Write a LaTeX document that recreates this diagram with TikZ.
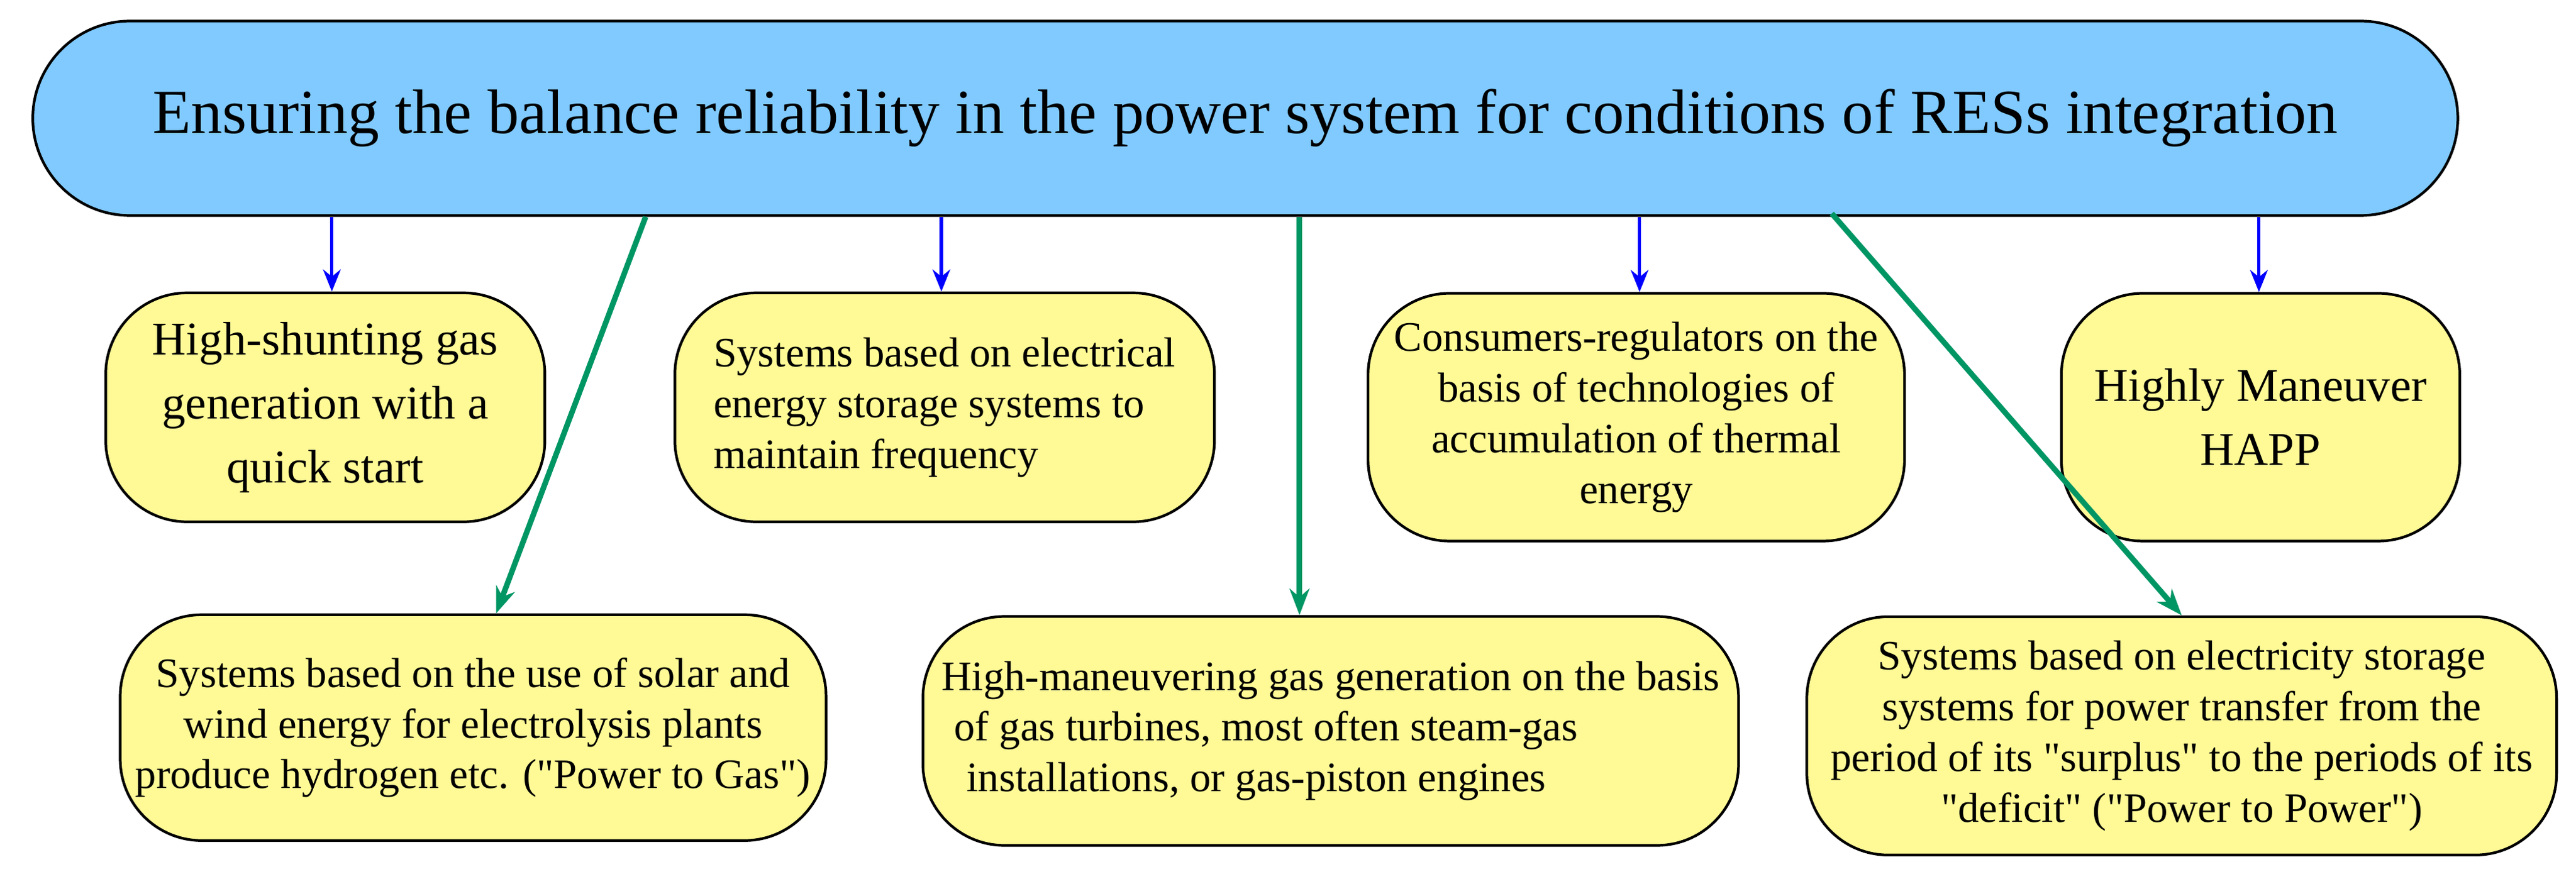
\documentclass[tikz,border=0pt]{standalone}
\usepackage{fontspec}
\setmainfont{Liberation Serif}
\usetikzlibrary{arrows.meta}
\definecolor{topblue}{RGB}{128,202,255}
\definecolor{boxyellow}{RGB}{255,250,150}
\definecolor{arrgreen}{RGB}{0,150,100}
\tikzset{
  topbox/.style={draw, line width=1.2pt, fill=topblue, rounded corners=1.55cm,
    minimum width=38.65cm, minimum height=3.1cm, font=\fontsize{28.5}{32}\selectfont},
  subbox/.style={draw, line width=1.2pt, fill=boxyellow, rounded corners=1.3cm,
    align=center, font=\fontsize{19}{23}\selectfont},
  bigtext/.style={font=\fontsize{21.3}{29}\selectfont},
  bluearrow/.style={-{Stealth[length=10pt,width=8pt]}, blue, line width=1.5pt},
  greenarrow/.style={-{Stealth[length=12pt,width=9pt]}, arrgreen, line width=2.5pt}
}
\begin{document}
\begin{tikzpicture}[x=0.02618cm,y=-0.02618cm]
\useasboundingbox (0,0) rectangle (1568,538);

% Main goal
\node[topbox] (top) at (758,72) {Ensuring the balance reliability in the power system for conditions of RESs integration};

% First row
\node[subbox, bigtext, minimum width=7.0cm, minimum height=3.65cm] (hsg) at (198,248)
  {High-shunting gas\\generation with a\\quick start};
\node[subbox, minimum width=8.6cm, minimum height=3.65cm, align=left] (ees) at (575,248)
  {Systems based on electrical\\energy storage systems to\\maintain frequency};
\node[subbox, minimum width=8.55cm, minimum height=3.95cm] (cons) at (996,254)
  {Consumers-regulators on the\\basis of technologies of\\accumulation of thermal\\energy};
\node[subbox, bigtext, minimum width=6.35cm, minimum height=3.95cm] (happ) at (1376,254)
  {Highly Maneuver\\HAPP};

% Second row
\node[subbox, minimum width=11.25cm, minimum height=3.6cm] (p2g) at (288,443)
  {Systems based on the use of solar and\\wind energy for electrolysis plants\\produce hydrogen etc. (\textquotedbl Power to Gas\textquotedbl)};
\node[subbox, minimum width=13.0cm, minimum height=3.65cm, align=left] (hmg) at (810,445)
  {High-maneuvering gas generation on the basis\\\hspace*{0.2cm}of gas turbines, most often steam-gas\\\hspace*{0.4cm}installations, or gas-piston engines};
\node[subbox, minimum width=11.95cm, minimum height=3.8cm] (p2p) at (1328,448)
  {Systems based on electricity storage\\systems for power transfer from the\\period of its \textquotedbl surplus\textquotedbl{} to the periods of its\\\textquotedbl deficit\textquotedbl{} (\textquotedbl Power to Power\textquotedbl)};

% Blue arrows
\draw[bluearrow] (top.south -| 202,0) -- (hsg.north -| 202,0);
\draw[bluearrow] (top.south -| 573,0) -- (ees.north -| 573,0);
\draw[bluearrow] (top.south -| 998,0) -- (cons.north -| 998,0);
\draw[bluearrow] (top.south -| 1375,0) -- (happ.north -| 1375,0);

% Green arrows
\draw[greenarrow] (top.south -| 393,0) -- (p2g.north -| 302,0);
\draw[greenarrow] (top.south -| 791,0) -- (hmg.north -| 791,0);
\draw[greenarrow] (1115,130) -- (p2p.north -| 1328,0);
\end{tikzpicture}
\end{document}
